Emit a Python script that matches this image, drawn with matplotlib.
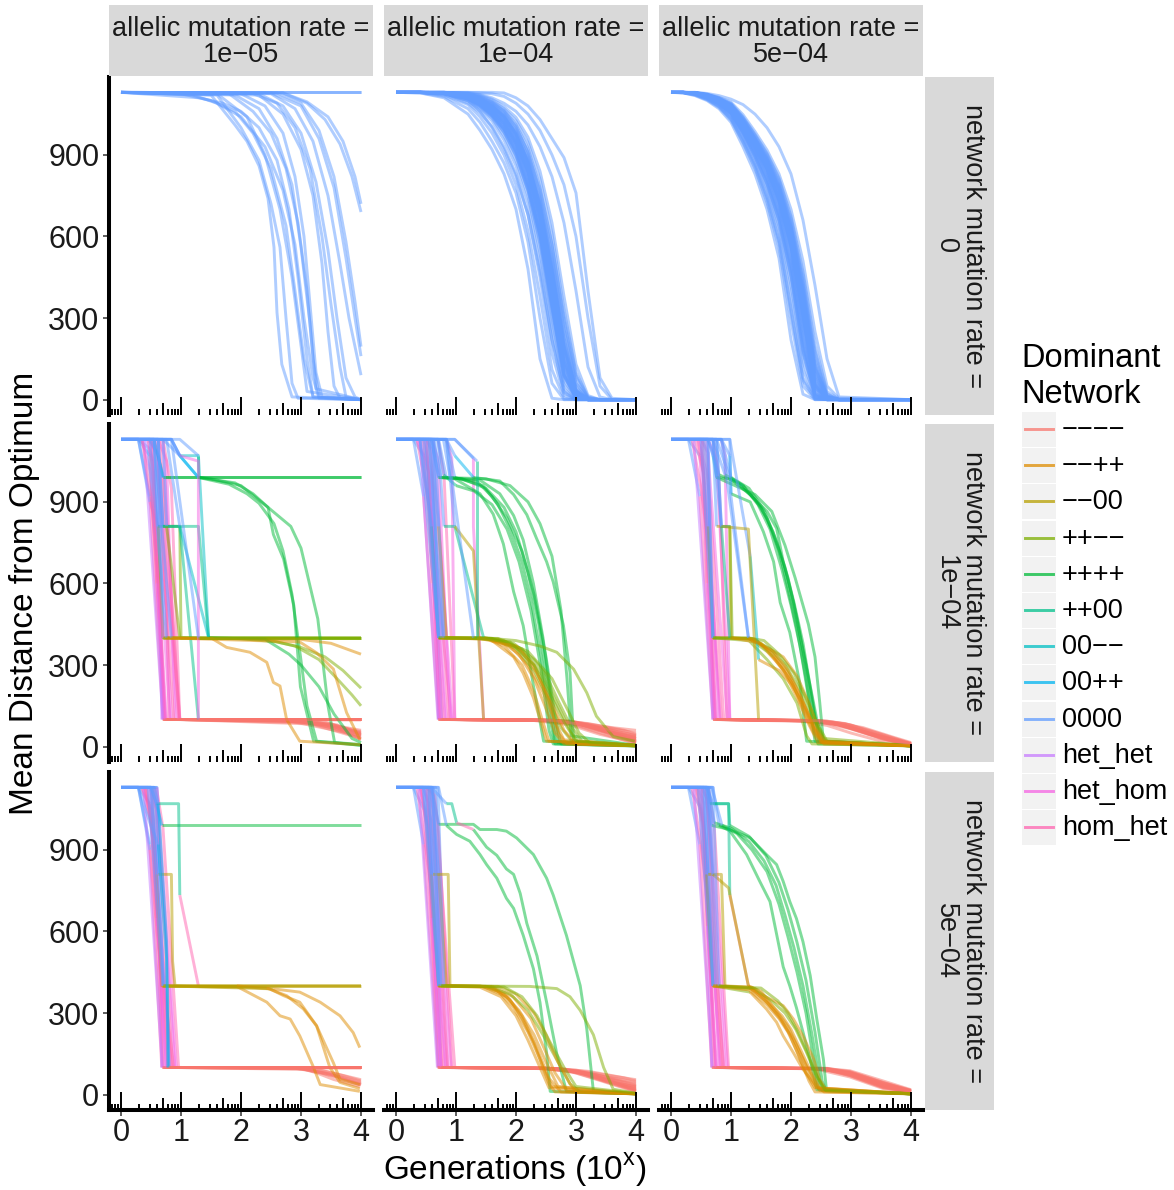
import numpy as np
import matplotlib
matplotlib.use("Agg")
import matplotlib.pyplot as plt
from matplotlib.patches import Rectangle
from matplotlib.lines import Line2D

plt.rcParams['font.family'] = ['Liberation Sans', 'DejaVu Sans']
plt.rcParams['mathtext.fontset'] = 'custom'
plt.rcParams['mathtext.rm'] = 'Liberation Sans'

# categories
networks = ["−−−−", "−−++", "−−00", "++−−", "++++", "++00", "00−−", "00++", "0000",
            "het_het", "het_hom", "hom_het"]
network_colors = ["#F8766D", "#DE8C00", "#B79F00", "#7CAE00", "#00BA38", "#00C08B",
                  "#00BFC4", "#00B4F0", "#619CFF", "#C77CFF", "#F564E3", "#FF64B0"]
network_codes = "modpgtcsbvhk"   # one letter per network, same order
allelic_rates = ["1e−05", "1e−04", "5e−04"]
network_rates = ["0", "1e−04", "5e−04"]
y_ticks = [0, 300, 600, 900]
x_ticks = [0, 1, 2, 3, 4]

# ---- row 1 (network mutation rate 0): all replicates stay on 0000 ----
traj_n0_a1 = [
    [(0, 1130), (4, 1130)],
    [(0, 1130), (4, 1130)],
    [(0, 1130), (1.5, 1120), (1.9, 1010), (2.1, 950), (2.3, 860), (2.45, 740), (2.55, 560), (2.6, 320), (2.68, 130), (2.85, 10), (4, 0)],
    [(0, 1130), (1.6, 1120), (2.0, 1000), (2.3, 880), (2.5, 720), (2.65, 560), (2.75, 300), (2.85, 60), (2.95, 5), (4, 0)],
    [(0, 1130), (1.0, 1125), (1.5, 1100), (1.9, 1060), (2.2, 980), (2.5, 850), (2.75, 640), (2.9, 400), (3.05, 150), (3.2, 10), (4, 0)],
    [(0, 1130), (1.2, 1120), (1.6, 1090), (2.0, 1040), (2.4, 930), (2.7, 770), (2.9, 570), (3.05, 300), (3.2, 80), (3.3, 5), (4, 0)],
    [(0, 1130), (1.8, 1125), (2.2, 1060), (2.5, 980), (2.75, 850), (2.95, 650), (3.1, 400), (3.2, 150), (3.3, 10), (4, 0)],
    [(0, 1130), (2.0, 1125), (2.4, 1080), (2.7, 980), (2.9, 820), (3.05, 600), (3.15, 350), (3.25, 100), (3.35, 10), (4, 0)],
    [(0, 1130), (1.9, 1120), (2.3, 1070), (2.6, 960), (2.85, 790), (3.0, 560), (3.15, 280), (3.25, 40), (4, 0)],
    [(0, 1130), (2.2, 1125), (2.6, 1090), (2.9, 1000), (3.15, 850), (3.35, 600), (3.5, 350), (3.65, 120), (3.75, 10), (4, 0)],
    [(0, 1130), (2.3, 1125), (2.7, 1080), (3.0, 980), (3.25, 800), (3.45, 550), (3.6, 300), (3.75, 80), (3.9, 10), (4, 0)],
    [(0, 1130), (2.5, 1125), (2.9, 1070), (3.2, 950), (3.45, 750), (3.65, 500), (3.8, 300), (4, 90)],
    [(0, 1130), (2.5, 1128), (3.0, 1080), (3.3, 960), (3.55, 780), (3.75, 520), (3.9, 300), (4, 160)],
    [(0, 1130), (2.6, 1128), (3.0, 1090), (3.3, 990), (3.55, 820), (3.75, 580), (3.9, 360), (4, 195)],
    [(0, 1130), (2.7, 1128), (3.1, 1090), (3.4, 1030), (3.65, 940), (3.85, 820), (4, 690)],
    [(0, 1130), (2.7, 1128), (3.1, 1095), (3.45, 1040), (3.7, 950), (3.9, 820), (4, 720)],
    [(0, 1130), (1.3, 1110), (1.7, 1090), (2.0, 1060), (2.3, 1000), (2.6, 880), (2.8, 700), (2.95, 450), (3.1, 150), (3.2, 10), (4, 0)],
    [(0, 1130), (1.6, 1125), (2.1, 1040), (2.4, 900), (2.65, 700), (2.85, 450), (3.0, 200), (3.1, 30), (4, 0)],
    [(0, 1130), (2.3, 1120), (2.7, 1050), (3.0, 920), (3.2, 750), (3.35, 500), (3.45, 250), (3.55, 50), (3.65, 5), (4, 0)],
]

gens_n0_a2 = [0, 0.4, 0.8, 1.2, 1.4, 1.6, 1.8, 2.0, 2.2, 2.4, 2.6, 2.8, 3.0, 3.2, 3.4, 3.6, 4.0]
dist_n0_a2 = [
    [1130, 1128, 1110, 1050, 990, 920, 830, 700, 480, 150, 5, 0, 0, 0, 0, 0, 0],
    [1130, 1128, 1115, 1070, 1020, 950, 870, 760, 580, 300, 60, 0, 0, 0, 0, 0, 0],
    [1130, 1130, 1120, 1085, 1040, 980, 900, 790, 620, 380, 110, 5, 0, 0, 0, 0, 0],
    [1130, 1130, 1122, 1090, 1055, 1005, 930, 830, 680, 450, 170, 15, 0, 0, 0, 0, 0],
    [1130, 1130, 1125, 1098, 1068, 1025, 955, 860, 720, 500, 220, 25, 0, 0, 0, 0, 0],
    [1130, 1130, 1125, 1100, 1072, 1035, 970, 880, 750, 540, 260, 40, 0, 0, 0, 0, 0],
    [1130, 1130, 1127, 1105, 1080, 1042, 985, 900, 770, 570, 290, 55, 3, 0, 0, 0, 0],
    [1130, 1130, 1127, 1108, 1084, 1048, 995, 915, 790, 600, 320, 70, 5, 0, 0, 0, 0],
    [1130, 1130, 1128, 1110, 1088, 1055, 1005, 930, 810, 620, 350, 90, 8, 0, 0, 0, 0],
    [1130, 1130, 1128, 1113, 1093, 1062, 1015, 940, 825, 640, 380, 110, 10, 0, 0, 0, 0],
    [1130, 1130, 1128, 1115, 1097, 1068, 1022, 950, 840, 660, 400, 130, 15, 0, 0, 0, 0],
    [1130, 1130, 1129, 1117, 1100, 1073, 1030, 962, 855, 680, 430, 150, 20, 0, 0, 0, 0],
    [1130, 1130, 1129, 1119, 1104, 1078, 1038, 972, 868, 700, 455, 175, 25, 0, 0, 0, 0],
    [1130, 1130, 1129, 1120, 1107, 1083, 1045, 982, 880, 720, 480, 200, 35, 0, 0, 0, 0],
    [1130, 1130, 1130, 1122, 1110, 1088, 1052, 992, 895, 740, 510, 230, 45, 0, 0, 0, 0],
    [1130, 1130, 1130, 1124, 1112, 1092, 1058, 1002, 910, 760, 540, 260, 60, 3, 0, 0, 0],
    [1130, 1130, 1130, 1125, 1115, 1095, 1064, 1012, 925, 780, 570, 290, 80, 5, 0, 0, 0],
    [1130, 1130, 1130, 1126, 1118, 1100, 1070, 1025, 945, 810, 610, 330, 100, 10, 0, 0, 0],
    [1130, 1130, 1130, 1127, 1120, 1105, 1078, 1038, 965, 840, 650, 380, 130, 15, 0, 0, 0],
    [1130, 1130, 1130, 1128, 1122, 1110, 1090, 1060, 1010, 930, 820, 650, 400, 120, 10, 0, 0],
    [1130, 1130, 1130, 1130, 1130, 1130, 1128, 1110, 1080, 1030, 960, 890, 760, 400, 80, 5, 0],
    [1130, 1130, 1130, 1130, 1128, 1125, 1115, 1090, 1050, 990, 900, 790, 600, 300, 50, 0, 0],
    [1130, 1130, 1125, 1100, 1060, 1000, 920, 820, 680, 470, 220, 30, 0, 0, 0, 0, 0],
    [1130, 1130, 1126, 1110, 1085, 1050, 995, 910, 780, 600, 350, 90, 5, 0, 0, 0, 0],
    [1130, 1130, 1129, 1118, 1102, 1078, 1040, 975, 870, 720, 520, 260, 60, 5, 0, 0, 0],
    [1130, 1130, 1127, 1108, 1082, 1045, 990, 905, 780, 610, 390, 140, 20, 0, 0, 0, 0],
    [1130, 1130, 1130, 1124, 1113, 1094, 1062, 1005, 910, 770, 570, 310, 90, 8, 0, 0, 0],
    [1130, 1130, 1128, 1114, 1093, 1062, 1015, 945, 840, 690, 480, 210, 35, 0, 0, 0, 0],
    [1130, 1130, 1128, 1112, 1090, 1058, 1010, 938, 832, 675, 460, 195, 30, 0, 0, 0, 0],
    [1130, 1130, 1129, 1119, 1105, 1081, 1042, 978, 875, 712, 468, 188, 30, 0, 0, 0, 0],
    [1130, 1130, 1126, 1104, 1078, 1040, 982, 896, 768, 585, 335, 85, 5, 0, 0, 0, 0],
    [1130, 1130, 1127, 1109, 1086, 1052, 1000, 922, 800, 612, 345, 95, 8, 0, 0, 0, 0],
    [1130, 1130, 1128, 1112, 1091, 1060, 1012, 936, 818, 632, 370, 105, 9, 0, 0, 0, 0],
    [1130, 1130, 1128, 1114, 1095, 1066, 1020, 948, 836, 655, 395, 125, 12, 0, 0, 0, 0],
    [1130, 1130, 1129, 1116, 1099, 1071, 1027, 958, 850, 672, 420, 145, 18, 0, 0, 0, 0],
    [1130, 1130, 1129, 1118, 1102, 1076, 1034, 968, 862, 690, 442, 165, 22, 0, 0, 0, 0],
    [1130, 1130, 1129, 1120, 1106, 1081, 1042, 978, 875, 710, 468, 188, 30, 0, 0, 0, 0],
    [1130, 1130, 1130, 1121, 1108, 1086, 1048, 987, 888, 730, 495, 215, 40, 0, 0, 0, 0],
    [1130, 1130, 1127, 1107, 1083, 1047, 996, 918, 796, 605, 340, 92, 7, 0, 0, 0, 0],
    [1130, 1130, 1128, 1116, 1098, 1070, 1026, 955, 846, 665, 410, 138, 16, 0, 0, 0, 0],
]

gens_n0_a3 = [0, 0.2, 0.4, 0.6, 0.8, 1.0, 1.2, 1.4, 1.6, 1.8, 2.0, 2.2, 2.4, 2.6, 2.8, 4.0]
dist_n0_a3 = [
    [1130, 1128, 1118, 1100, 1070, 1020, 930, 830, 700, 520, 220, 20, 0, 0, 0, 0],
    [1130, 1128, 1120, 1103, 1075, 1028, 945, 850, 725, 560, 290, 50, 0, 0, 0, 0],
    [1130, 1129, 1122, 1106, 1080, 1035, 955, 862, 745, 590, 340, 80, 3, 0, 0, 0],
    [1130, 1129, 1123, 1108, 1083, 1040, 962, 872, 760, 615, 380, 110, 5, 0, 0, 0],
    [1130, 1130, 1124, 1110, 1086, 1045, 970, 882, 775, 635, 420, 140, 8, 0, 0, 0],
    [1130, 1130, 1125, 1111, 1088, 1050, 978, 892, 790, 655, 450, 170, 12, 0, 0, 0],
    [1130, 1130, 1126, 1113, 1091, 1055, 985, 902, 805, 675, 480, 200, 18, 0, 0, 0],
    [1130, 1130, 1126, 1114, 1093, 1059, 992, 912, 818, 693, 505, 230, 25, 0, 0, 0],
    [1130, 1130, 1127, 1115, 1095, 1063, 998, 920, 830, 710, 530, 260, 35, 0, 0, 0],
    [1130, 1130, 1127, 1116, 1097, 1067, 1004, 928, 842, 725, 555, 290, 45, 2, 0, 0],
    [1130, 1130, 1128, 1118, 1100, 1071, 1010, 936, 853, 740, 575, 320, 60, 3, 0, 0],
    [1130, 1130, 1128, 1119, 1102, 1075, 1016, 944, 864, 755, 595, 350, 80, 5, 0, 0],
    [1130, 1130, 1128, 1120, 1104, 1078, 1022, 952, 875, 770, 615, 380, 100, 8, 0, 0],
    [1130, 1130, 1129, 1121, 1106, 1082, 1028, 960, 886, 785, 635, 410, 130, 12, 0, 0],
    [1130, 1130, 1129, 1122, 1108, 1086, 1034, 968, 896, 800, 655, 440, 160, 18, 0, 0],
    [1130, 1130, 1129, 1123, 1110, 1090, 1040, 976, 906, 815, 675, 470, 200, 30, 2, 0],
    [1130, 1130, 1130, 1124, 1112, 1094, 1048, 986, 918, 830, 700, 510, 250, 50, 5, 0],
    [1130, 1130, 1130, 1126, 1118, 1105, 1085, 1050, 1000, 930, 830, 660, 420, 150, 10, 0],
    [1130, 1129, 1121, 1104, 1078, 1032, 950, 856, 735, 575, 320, 70, 2, 0, 0, 0],
    [1130, 1130, 1125, 1112, 1090, 1053, 982, 897, 797, 665, 465, 185, 15, 0, 0, 0],
    [1130, 1130, 1127, 1116, 1098, 1069, 1007, 932, 848, 732, 565, 305, 52, 2, 0, 0],
    [1130, 1130, 1128, 1119, 1103, 1077, 1019, 948, 870, 762, 605, 365, 90, 6, 0, 0],
    [1130, 1130, 1129, 1122, 1109, 1088, 1037, 972, 901, 808, 665, 455, 180, 22, 0, 0],
    [1130, 1130, 1126, 1112, 1089, 1051, 980, 894, 793, 660, 458, 178, 14, 0, 0, 0],
    [1130, 1130, 1128, 1117, 1099, 1070, 1008, 934, 850, 736, 570, 312, 56, 2, 0, 0],
    [1130, 1130, 1129, 1120, 1105, 1080, 1025, 956, 880, 778, 625, 395, 115, 10, 0, 0],
    [1130, 1130, 1127, 1115, 1096, 1065, 1001, 924, 836, 718, 542, 275, 40, 1, 0, 0],
    [1130, 1130, 1128, 1121, 1107, 1084, 1031, 964, 891, 792, 645, 425, 145, 15, 0, 0],
    [1130, 1130, 1126, 1113, 1092, 1057, 988, 907, 812, 684, 492, 215, 22, 0, 0, 0],
    [1130, 1130, 1128, 1117, 1099, 1069, 1007, 931, 847, 733, 565, 305, 52, 2, 0, 0],
    [1130, 1130, 1128, 1118, 1101, 1073, 1013, 940, 858, 748, 585, 335, 70, 4, 0, 0],
    [1130, 1130, 1128, 1120, 1103, 1076, 1019, 948, 869, 763, 605, 365, 90, 6, 0, 0],
    [1130, 1130, 1129, 1121, 1105, 1080, 1025, 956, 880, 778, 625, 395, 115, 10, 0, 0],
    [1130, 1130, 1126, 1113, 1092, 1058, 990, 909, 814, 687, 495, 218, 23, 0, 0, 0],
    [1130, 1130, 1127, 1116, 1097, 1066, 1003, 926, 839, 722, 548, 282, 42, 1, 0, 0],
    [1130, 1130, 1128, 1118, 1100, 1072, 1011, 937, 855, 745, 580, 328, 66, 3, 0, 0],
    [1130, 1130, 1129, 1121, 1106, 1081, 1027, 958, 883, 781, 630, 402, 122, 11, 0, 0],
]

# ---- rows 2-3: (log10 generation, distance, dominant network code) ----
traj_n1_a1 = [
    [(0, 1130, 'b'), (0.29, 1130, 'b'), (0.48, 1070, 'k'), (0.72, 100, 'm'), (4, 100, 'm')],
    [(0, 1130, 'b'), (0.29, 1130, 'b'), (0.48, 920, 'k'), (0.7, 100, 'm'), (2.6, 98, 'm'), (3.2, 85, 'm'), (3.7, 60, 'm'), (4, 35, 'm')],
    [(0, 1130, 'b'), (0.35, 1130, 'h'), (0.5, 1000, 'h'), (0.76, 100, 'm'), (2.8, 97, 'm'), (3.4, 80, 'm'), (4, 45, 'm')],
    [(0, 1130, 'b'), (0.45, 1130, 'h'), (0.62, 1070, 'h'), (0.84, 100, 'm'), (3.0, 95, 'm'), (3.6, 70, 'm'), (4, 25, 'm')],
    [(0, 1130, 'b'), (0.55, 1130, 'k'), (0.7, 1000, 'k'), (0.98, 100, 'm'), (3.0, 96, 'm'), (3.5, 75, 'm'), (4, 50, 'm')],
    [(0, 1130, 'b'), (0.48, 1130, 'v'), (0.62, 1070, 'v'), (0.68, 100, 'm'), (4, 100, 'm')],
    [(0, 1130, 'b'), (0.62, 1130, 'h'), (0.76, 1050, 'h'), (0.9, 100, 'm'), (2.9, 96, 'm'), (3.5, 70, 'm'), (4, 30, 'm')],
    [(0, 1130, 'b'), (0.7, 1130, 'k'), (0.84, 950, 'k'), (0.98, 100, 'm'), (3.2, 92, 'm'), (4, 60, 'm')],
    [(0, 1130, 'b'), (0.29, 1130, 'b'), (0.48, 900, 'k'), (0.62, 810, 'k'), (0.76, 500, 'k'), (0.8, 100, 'm'), (2.8, 95, 'm'), (4, 40, 'm')],
    [(0, 1130, 'b'), (0.29, 1130, 'b'), (0.45, 1100, 'b'), (0.6, 700, 'k'), (0.74, 100, 'm'), (4, 100, 'm')],
    [(0, 1130, 'b'), (0.4, 1130, 'v'), (0.55, 1050, 'v'), (0.7, 100, 'm'), (2.7, 98, 'm'), (3.3, 88, 'm'), (4, 55, 'm')],
    [(0, 1130, 'b'), (0.45, 1130, 'k'), (0.55, 1000, 'k'), (0.72, 100, 'm'), (4, 100, 'm')],
    [(0, 1130, 'b'), (0.5, 1130, 'h'), (0.82, 100, 'm'), (4, 98, 'm')],
    [(0, 1130, 'b'), (0.55, 1130, 'k'), (0.65, 900, 'k'), (0.88, 100, 'm'), (3.4, 90, 'm'), (4, 50, 'm')],
    [(0, 1130, 'b'), (0.6, 1130, 'h'), (0.94, 100, 'm'), (4, 100, 'm')],
    [(0, 1130, 'b'), (0.65, 1130, 'k'), (0.75, 700, 'k'), (0.98, 100, 'm'), (3.5, 85, 'm'), (4, 40, 'm')],
    [(0, 1130, 'b'), (0.38, 1130, 'v'), (0.7, 100, 'm'), (4, 100, 'm')],
    [(0, 1130, 'b'), (0.52, 1130, 'k'), (0.6, 600, 'h'), (0.74, 100, 'm'), (4, 100, 'm')],
    [(0, 1130, 'b'), (0.7, 1130, 'h'), (0.78, 800, 'k'), (0.96, 100, 'm'), (3.6, 80, 'm'), (4, 45, 'm')],
    [(0, 1130, 'b'), (0.48, 1130, 'b'), (0.62, 1070, 's'), (0.7, 990, 'g'), (4, 990, 'g')],
    [(0, 1130, 'b'), (0.55, 1130, 's'), (0.7, 990, 'g'), (4, 990, 'g')],
    [(0, 1130, 'b'), (0.55, 1130, 'b'), (0.62, 810, 'p'), (0.7, 400, 'p'), (4, 400, 'p')],
    [(0, 1130, 'b'), (0.62, 1130, 'b'), (0.7, 810, 'p'), (0.98, 810, 'p'), (1.0, 400, 'p'), (4, 400, 'p')],
    [(0, 1130, 'b'), (0.84, 1130, 'b'), (0.98, 1070, 'c'), (1.29, 1070, 'c'), (1.46, 400, 'p'), (4, 398, 'p')],
    [(0, 1130, 'b'), (0.62, 1130, 'b'), (0.7, 810, 't'), (0.98, 810, 't'), (1.29, 100, 'm'), (3.0, 95, 'm'), (4, 30, 'm')],
    [(0, 1130, 'b'), (0.55, 1130, 'b'), (0.62, 810, 't'), (1.29, 810, 't'), (1.46, 400, 'p'), (4, 400, 'p')],
    [(0, 1130, 'b'), (0.84, 1130, 'b'), (0.98, 1070, 's'), (1.29, 990, 'g'), (1.5, 985, 'g'), (2.0, 960, 'g'), (2.45, 880, 'g'), (2.83, 810, 'g'), (3.0, 730, 'g'), (3.28, 470, 'g'), (3.45, 150, 'g'), (3.56, 15, 'g'), (4, 5, 'g')],
    [(0, 1130, 'b'), (0.98, 1130, 'b'), (1.29, 1070, 't'), (1.29, 990, 'g'), (1.9, 970, 'g'), (2.2, 930, 'g'), (2.45, 880, 'g'), (2.54, 780, 'g'), (2.71, 690, 'g'), (2.88, 520, 'g'), (2.99, 220, 'g'), (3.21, 20, 'g'), (4, 5, 'g')],
    [(0, 1130, 'b'), (0.7, 1130, 'b'), (0.98, 1070, 's'), (1.29, 990, 'g'), (1.8, 965, 'g'), (2.1, 930, 'g'), (2.3, 895, 'g'), (2.55, 820, 'g'), (2.7, 720, 'g'), (2.85, 560, 'g'), (2.98, 350, 'g'), (3.1, 150, 'g'), (3.26, 20, 'g'), (4, 8, 'g')],
    [(0, 1130, 'b'), (0.62, 1130, 'b'), (0.7, 400, 'p'), (2.0, 397, 'p'), (2.6, 385, 'p'), (3.0, 365, 'p'), (3.4, 330, 'p'), (3.7, 280, 'p'), (4, 215, 'p')],
    [(0, 1130, 'b'), (0.7, 1130, 'b'), (0.76, 810, 'p'), (0.98, 400, 'p'), (2.4, 395, 'p'), (2.9, 370, 'p'), (3.3, 320, 'p'), (3.6, 250, 'p'), (3.85, 190, 'p'), (4, 150, 'p')],
    [(0, 1130, 'b'), (0.76, 1130, 'b'), (0.98, 810, 'c'), (1.46, 400, 'g'), (2.4, 395, 'g'), (2.8, 340, 'g'), (3.0, 300, 'g'), (3.3, 220, 'g'), (3.55, 120, 'g'), (3.85, 30, 'g'), (4, 15, 'g')],
    [(0, 1130, 'b'), (0.35, 1130, 'k'), (0.5, 920, 'k'), (0.7, 400, 'd'), (1.5, 400, 'o'), (1.76, 365, 'o'), (2.15, 347, 'o'), (2.43, 310, 'o'), (2.54, 236, 'o'), (2.65, 223, 'o'), (2.76, 100, 'o'), (2.98, 20, 'o'), (4, 7, 'o')],
    [(0, 1130, 'b'), (0.48, 1130, 'b'), (0.76, 400, 'o'), (2.98, 385, 'o'), (3.26, 345, 'o'), (3.54, 285, 'o'), (3.76, 125, 'o'), (3.98, 26, 'o')],
    [(0, 1130, 'b'), (0.55, 1130, 'b'), (0.84, 400, 'o'), (2.98, 395, 'o'), (3.5, 380, 'o'), (4, 340, 'o')],
    [(0, 1130, 'b'), (0.84, 1130, 'b'), (0.98, 1070, 'h'), (1.29, 1050, 'h'), (1.29, 100, 'm'), (4, 100, 'm')],
    [(0, 1130, 'b'), (0.84, 1130, 'b'), (1.29, 400, 'p'), (4, 400, 'p')],
]

traj_n1_a2 = [
    [(0, 1130, 'b'), (0.29, 1130, 'b'), (0.46, 920, 'k'), (0.71, 100, 'm'), (2.5, 98, 'm'), (3.0, 85, 'm'), (3.5, 55, 'm'), (4, 30, 'm')],
    [(0, 1130, 'b'), (0.29, 1130, 'b'), (0.46, 1070, 'k'), (0.79, 100, 'm'), (2.6, 97, 'm'), (3.1, 80, 'm'), (3.6, 45, 'm'), (4, 20, 'm')],
    [(0, 1130, 'b'), (0.4, 1130, 'h'), (0.55, 1000, 'h'), (0.84, 100, 'm'), (2.4, 98, 'm'), (3.0, 88, 'm'), (3.5, 65, 'm'), (4, 40, 'm')],
    [(0, 1130, 'b'), (0.5, 1130, 'v'), (0.6, 1090, 'v'), (0.71, 100, 'm'), (2.7, 96, 'm'), (3.2, 75, 'm'), (3.7, 40, 'm'), (4, 15, 'm')],
    [(0, 1130, 'b'), (0.59, 1130, 'h'), (0.7, 1060, 'h'), (0.9, 100, 'm'), (2.5, 97, 'm'), (3.0, 90, 'm'), (3.5, 70, 'm'), (4, 50, 'm')],
    [(0, 1130, 'b'), (0.7, 1130, 'k'), (0.8, 1000, 'k'), (0.98, 100, 'm'), (2.8, 95, 'm'), (3.3, 70, 'm'), (3.8, 35, 'm'), (4, 25, 'm')],
    [(0, 1130, 'b'), (0.35, 1130, 'k'), (0.5, 950, 'k'), (0.62, 810, 'k'), (0.76, 100, 'm'), (2.3, 98, 'm'), (2.9, 85, 'm'), (3.4, 50, 'm'), (4, 10, 'm')],
    [(0, 1130, 'b'), (0.84, 1130, 'h'), (0.93, 1060, 'h'), (0.98, 100, 'm'), (2.6, 97, 'm'), (3.2, 85, 'm'), (3.8, 60, 'm'), (4, 45, 'm')],
    [(0, 1130, 'b'), (0.98, 1130, 'b'), (1.29, 1060, 'h'), (1.29, 810, 'h'), (1.46, 100, 'm'), (2.9, 95, 'm'), (4, 30, 'm')],
    [(0, 1130, 'b'), (0.46, 1130, 'v'), (0.59, 1000, 'v'), (0.76, 100, 'm'), (2.5, 97, 'm'), (3.0, 90, 'm'), (3.6, 70, 'm'), (4, 60, 'm')],
    [(0, 1130, 'b'), (0.35, 1130, 'h'), (0.46, 1070, 'h'), (0.93, 100, 'm'), (2.3, 96, 'm'), (2.9, 80, 'm'), (3.4, 45, 'm'), (4, 15, 'm')],
    [(0, 1130, 'b'), (0.45, 1130, 'k'), (0.55, 1000, 'k'), (0.72, 100, 'm'), (2.4, 97, 'm'), (2.9, 86, 'm'), (3.5, 52, 'm'), (4, 22, 'm')],
    [(0, 1130, 'b'), (0.5, 1130, 'h'), (0.82, 100, 'm'), (2.6, 96, 'm'), (3.1, 82, 'm'), (3.6, 48, 'm'), (4, 28, 'm')],
    [(0, 1130, 'b'), (0.55, 1130, 'k'), (0.65, 900, 'k'), (0.88, 100, 'm'), (2.5, 97, 'm'), (3.0, 88, 'm'), (3.6, 60, 'm'), (4, 40, 'm')],
    [(0, 1130, 'b'), (0.62, 1130, 'h'), (0.94, 100, 'm'), (2.7, 95, 'm'), (3.2, 78, 'm'), (3.7, 42, 'm'), (4, 18, 'm')],
    [(0, 1130, 'b'), (0.4, 1130, 'v'), (0.7, 100, 'm'), (2.4, 98, 'm'), (3.0, 84, 'm'), (3.5, 58, 'm'), (4, 35, 'm')],
    [(0, 1130, 'b'), (0.52, 1130, 'k'), (0.6, 600, 'h'), (0.74, 100, 'm'), (2.6, 96, 'm'), (3.2, 80, 'm'), (4, 20, 'm')],
    [(0, 1130, 'b'), (0.59, 1130, 'b'), (0.71, 990, 'g'), (0.98, 985, 'g'), (1.4, 930, 'g'), (1.62, 855, 'g'), (1.79, 745, 'g'), (1.96, 570, 'g'), (2.12, 445, 'g'), (2.29, 225, 'g'), (2.46, 20, 'g'), (4, 5, 'g')],
    [(0, 1130, 'b'), (0.71, 1130, 'b'), (0.84, 990, 'g'), (1.4, 980, 'g'), (1.73, 930, 'g'), (1.96, 850, 'g'), (2.12, 760, 'g'), (2.29, 600, 'g'), (2.45, 400, 'g'), (2.6, 150, 'g'), (2.7, 15, 'g'), (4, 3, 'g')],
    [(0, 1130, 'b'), (0.84, 1130, 'b'), (0.98, 1070, 's'), (1.29, 990, 'g'), (1.73, 977, 'g'), (1.96, 927, 'g'), (2.18, 853, 'g'), (2.34, 767, 'g'), (2.51, 680, 'g'), (2.62, 606, 'g'), (2.79, 446, 'g'), (2.9, 273, 'g'), (2.96, 20, 'g'), (4, 5, 'g')],
    [(0, 1130, 'b'), (0.59, 1130, 'b'), (0.71, 990, 'g'), (1.1, 985, 'g'), (1.5, 950, 'g'), (1.8, 880, 'g'), (2.0, 790, 'g'), (2.2, 640, 'g'), (2.38, 450, 'g'), (2.55, 200, 'g'), (2.65, 20, 'g'), (4, 4, 'g')],
    [(0, 1130, 'b'), (0.7, 1130, 'b'), (0.79, 1000, 't'), (1.0, 960, 'g'), (1.3, 940, 'g'), (1.6, 890, 'g'), (1.85, 800, 'g'), (2.05, 680, 'g'), (2.25, 500, 'g'), (2.42, 280, 'g'), (2.55, 60, 'g'), (2.62, 10, 'g'), (4, 2, 'g')],
    [(0, 1130, 'b'), (0.79, 1130, 'b'), (0.9, 990, 'g'), (1.35, 975, 'g'), (1.6, 920, 'g'), (1.85, 840, 'g'), (2.1, 720, 'g'), (2.3, 560, 'g'), (2.5, 330, 'g'), (2.66, 100, 'g'), (2.75, 10, 'g'), (4, 3, 'g')],
    [(0, 1130, 'b'), (0.84, 1130, 'b'), (0.98, 990, 'g'), (1.45, 960, 'g'), (1.7, 890, 'g'), (1.9, 800, 'g'), (2.1, 680, 'g'), (2.25, 540, 'g'), (2.42, 330, 'g'), (2.55, 120, 'g'), (2.65, 10, 'g'), (4, 4, 'g')],
    [(0, 1130, 'b'), (0.62, 1130, 'b'), (0.75, 990, 'g'), (1.5, 985, 'g'), (1.9, 960, 'g'), (2.2, 900, 'g'), (2.4, 820, 'g'), (2.6, 700, 'g'), (2.75, 500, 'g'), (2.85, 250, 'g'), (2.92, 40, 'g'), (4, 5, 'g')],
    [(0, 1130, 'b'), (0.4, 1130, 'b'), (0.59, 810, 't'), (0.71, 400, 'p'), (1.4, 400, 'p'), (1.96, 380, 'p'), (2.3, 320, 'p'), (2.51, 260, 'p'), (2.7, 170, 'p'), (2.9, 80, 'p'), (3.1, 20, 'p'), (4, 5, 'p')],
    [(0, 1130, 'b'), (0.5, 1130, 'b'), (0.71, 400, 'o'), (1.57, 395, 'o'), (1.96, 330, 'o'), (2.12, 270, 'o'), (2.29, 180, 'o'), (2.4, 100, 'o'), (2.51, 20, 'o'), (4, 5, 'o')],
    [(0, 1130, 'b'), (0.59, 1130, 'b'), (0.71, 810, 'd'), (0.84, 400, 'd'), (1.5, 400, 'o'), (1.9, 370, 'o'), (2.2, 300, 'o'), (2.45, 200, 'o'), (2.65, 90, 'o'), (2.8, 25, 'o'), (4, 5, 'o')],
    [(0, 1130, 'b'), (0.46, 1130, 'b'), (0.71, 400, 'p'), (1.6, 398, 'p'), (2.0, 360, 'p'), (2.3, 280, 'p'), (2.55, 170, 'p'), (2.75, 70, 'p'), (2.95, 15, 'p'), (4, 3, 'p')],
    [(0, 1130, 'b'), (0.55, 1130, 'b'), (0.79, 400, 'o'), (1.7, 395, 'o'), (2.05, 340, 'o'), (2.3, 250, 'o'), (2.5, 140, 'o'), (2.65, 50, 'o'), (2.8, 10, 'o'), (4, 3, 'o')],
    [(0, 1130, 'b'), (0.62, 1130, 'b'), (0.71, 400, 'p'), (1.5, 400, 'p'), (2.0, 390, 'p'), (2.4, 370, 'p'), (2.68, 347, 'p'), (2.96, 285, 'p'), (3.18, 198, 'p'), (3.34, 112, 'p'), (3.62, 37, 'p'), (3.98, 20, 'p')],
    [(0, 1130, 'b'), (0.7, 1130, 'b'), (0.8, 810, 't'), (0.98, 810, 't'), (1.46, 400, 'd'), (1.8, 390, 'd'), (2.1, 350, 'o'), (2.35, 270, 'o'), (2.6, 160, 'o'), (2.8, 60, 'o'), (3.0, 10, 'o'), (4, 4, 'o')],
    [(0, 1130, 'b'), (0.4, 1130, 'b'), (0.71, 400, 'p'), (1.6, 396, 'p'), (2.1, 360, 'p'), (2.45, 260, 'p'), (2.7, 150, 'p'), (2.9, 60, 'p'), (3.05, 15, 'p'), (4, 3, 'p')],
    [(0, 1130, 'b'), (0.55, 1130, 'b'), (0.76, 400, 'o'), (1.5, 398, 'o'), (1.8, 370, 'o'), (2.1, 300, 'o'), (2.3, 200, 'o'), (2.45, 90, 'o'), (2.55, 20, 'o'), (4, 5, 'o')],
    [(0, 1130, 'b'), (0.65, 1130, 'b'), (0.8, 400, 'p'), (1.7, 398, 'p'), (2.2, 350, 'p'), (2.6, 250, 'p'), (2.85, 140, 'p'), (3.05, 50, 'p'), (3.25, 10, 'p'), (4, 3, 'p')],
    [(0, 1130, 'b'), (0.84, 1130, 'b'), (0.98, 810, 'd'), (1.29, 720, 'd'), (1.46, 100, 'm'), (2.6, 97, 'm'), (3.3, 75, 'm'), (4, 35, 'm')],
    [(0, 1130, 'b'), (0.98, 1130, 'b'), (1.35, 1050, 't'), (1.35, 400, 'o'), (2.0, 370, 'o'), (2.3, 300, 'o'), (2.55, 170, 'o'), (2.7, 50, 'o'), (2.85, 10, 'o'), (4, 3, 'o')],
    [(0, 1130, 'b'), (0.84, 1130, 'b'), (1.29, 400, 'p'), (1.9, 385, 'p'), (2.3, 300, 'p'), (2.55, 200, 'p'), (2.8, 90, 'p'), (3.0, 20, 'p'), (4, 4, 'p')],
]

traj_n1_a3 = [
    [(0, 1130, 'b'), (0.29, 1130, 'b'), (0.48, 920, 'k'), (0.7, 100, 'm'), (2.2, 95, 'm'), (2.6, 85, 'm'), (3.0, 65, 'm'), (3.5, 30, 'm'), (4, 8, 'm')],
    [(0, 1130, 'b'), (0.29, 1130, 'b'), (0.48, 1070, 'h'), (0.76, 100, 'm'), (2.3, 96, 'm'), (2.7, 88, 'm'), (3.1, 60, 'm'), (3.6, 25, 'm'), (4, 6, 'm')],
    [(0, 1130, 'b'), (0.4, 1130, 'k'), (0.55, 1000, 'k'), (0.84, 100, 'm'), (2.4, 95, 'm'), (2.8, 80, 'm'), (3.2, 55, 'm'), (3.7, 20, 'm'), (4, 8, 'm')],
    [(0, 1130, 'b'), (0.5, 1130, 'v'), (0.62, 1080, 'v'), (0.7, 100, 'm'), (2.2, 93, 'm'), (2.6, 78, 'm'), (3.0, 50, 'm'), (3.5, 20, 'm'), (4, 5, 'm')],
    [(0, 1130, 'b'), (0.62, 1130, 'h'), (0.76, 1050, 'h'), (0.98, 100, 'm'), (2.5, 96, 'm'), (2.9, 85, 'm'), (3.3, 60, 'm'), (3.8, 25, 'm'), (4, 12, 'm')],
    [(0, 1130, 'b'), (0.7, 1130, 'k'), (0.8, 990, 'k'), (0.93, 100, 'm'), (2.3, 94, 'm'), (2.7, 84, 'm'), (3.1, 62, 'm'), (3.6, 30, 'm'), (4, 10, 'm')],
    [(0, 1130, 'b'), (0.35, 1130, 'k'), (0.5, 950, 'k'), (0.65, 700, 'k'), (0.74, 100, 'm'), (2.4, 95, 'm'), (2.8, 82, 'm'), (3.3, 50, 'm'), (3.8, 18, 'm'), (4, 8, 'm')],
    [(0, 1130, 'b'), (0.84, 1130, 'h'), (0.9, 1070, 'h'), (0.98, 100, 'm'), (2.2, 96, 'm'), (2.7, 90, 'm'), (3.2, 70, 'm'), (3.7, 35, 'm'), (4, 15, 'm')],
    [(0, 1130, 'b'), (0.45, 1130, 'h'), (0.6, 1000, 'h'), (0.8, 100, 'm'), (2.6, 94, 'm'), (3.0, 80, 'm'), (3.4, 45, 'm'), (4, 10, 'm')],
    [(0, 1130, 'b'), (0.45, 1130, 'k'), (0.55, 1000, 'k'), (0.72, 100, 'm'), (2.3, 95, 'm'), (2.8, 80, 'm'), (3.3, 45, 'm'), (4, 9, 'm')],
    [(0, 1130, 'b'), (0.5, 1130, 'h'), (0.82, 100, 'm'), (2.4, 96, 'm'), (2.9, 84, 'm'), (3.4, 52, 'm'), (4, 12, 'm')],
    [(0, 1130, 'b'), (0.55, 1130, 'k'), (0.65, 900, 'k'), (0.88, 100, 'm'), (2.2, 95, 'm'), (2.7, 86, 'm'), (3.2, 58, 'm'), (4, 10, 'm')],
    [(0, 1130, 'b'), (0.6, 1130, 'h'), (0.94, 100, 'm'), (2.5, 94, 'm'), (3.0, 72, 'm'), (3.5, 32, 'm'), (4, 7, 'm')],
    [(0, 1130, 'b'), (0.38, 1130, 'v'), (0.7, 100, 'm'), (2.3, 96, 'm'), (2.8, 82, 'm'), (3.3, 48, 'm'), (4, 9, 'm')],
    [(0, 1130, 'b'), (0.52, 1130, 'k'), (0.6, 600, 'h'), (0.74, 100, 'm'), (2.4, 95, 'm'), (2.9, 78, 'm'), (3.5, 35, 'm'), (4, 8, 'm')],
    [(0, 1130, 'b'), (0.62, 1130, 'b'), (0.7, 1070, 'c'), (0.76, 990, 'g'), (0.98, 985, 'g'), (1.32, 927, 'g'), (1.6, 865, 'g'), (1.76, 803, 'g'), (1.87, 680, 'g'), (2.04, 532, 'g'), (2.15, 408, 'g'), (2.32, 223, 'g'), (2.43, 100, 'g'), (2.54, 20, 'g'), (4, 4, 'g')],
    [(0, 1130, 'b'), (0.84, 1130, 'b'), (0.98, 1070, 's'), (1.0, 930, 'g'), (1.32, 900, 'g'), (1.54, 790, 'g'), (1.71, 680, 'g'), (1.82, 530, 'g'), (1.98, 420, 'g'), (2.15, 230, 'g'), (2.26, 20, 'g'), (4, 3, 'g')],
    [(0, 1130, 'b'), (0.7, 1130, 'b'), (0.76, 990, 'g'), (1.4, 927, 'g'), (1.68, 865, 'g'), (1.9, 740, 'g'), (2.07, 620, 'g'), (2.29, 450, 'g'), (2.4, 330, 'g'), (2.48, 160, 'g'), (2.54, 20, 'g'), (4, 3, 'g')],
    [(0, 1130, 'b'), (0.7, 1130, 'b'), (0.9, 1000, 'g'), (1.2, 960, 'g'), (1.45, 890, 'g'), (1.65, 800, 'g'), (1.85, 650, 'g'), (2.0, 520, 'g'), (2.15, 370, 'g'), (2.3, 170, 'g'), (2.4, 20, 'g'), (4, 3, 'g')],
    [(0, 1130, 'b'), (0.62, 1130, 'b'), (0.8, 1000, 'g'), (1.1, 970, 'g'), (1.4, 910, 'g'), (1.6, 840, 'g'), (1.8, 720, 'g'), (1.95, 580, 'g'), (2.1, 430, 'g'), (2.25, 250, 'g'), (2.38, 60, 'g'), (2.45, 10, 'g'), (4, 3, 'g')],
    [(0, 1130, 'b'), (0.76, 1130, 'b'), (0.98, 990, 't'), (1.2, 960, 'g'), (1.5, 880, 'g'), (1.7, 790, 'g'), (1.9, 660, 'g'), (2.05, 530, 'g'), (2.2, 380, 'g'), (2.35, 180, 'g'), (2.47, 20, 'g'), (4, 3, 'g')],
    [(0, 1130, 'b'), (0.84, 1130, 'b'), (1.0, 990, 'g'), (1.3, 950, 'g'), (1.55, 870, 'g'), (1.75, 760, 'g'), (1.95, 620, 'g'), (2.1, 470, 'g'), (2.25, 300, 'g'), (2.4, 100, 'g'), (2.5, 15, 'g'), (4, 3, 'g')],
    [(0, 1130, 'b'), (0.55, 1130, 'b'), (0.62, 810, 'p'), (0.7, 400, 'p'), (1.29, 400, 'p'), (1.6, 350, 'o'), (1.87, 285, 'o'), (2.04, 225, 'o'), (2.2, 137, 'o'), (2.38, 50, 'o'), (2.54, 15, 'o'), (4, 3, 'o')],
    [(0, 1130, 'b'), (0.62, 1130, 'b'), (0.7, 400, 'd'), (1.29, 398, 'o'), (1.6, 365, 'o'), (1.87, 330, 'o'), (2.1, 260, 'o'), (2.32, 150, 'o'), (2.48, 50, 'o'), (2.6, 15, 'o'), (4, 3, 'o')],
    [(0, 1130, 'b'), (0.5, 1130, 'b'), (0.7, 400, 'p'), (1.3, 390, 'p'), (1.6, 320, 'p'), (1.87, 250, 'p'), (2.1, 160, 'p'), (2.26, 40, 'p'), (2.35, 10, 'p'), (4, 3, 'p')],
    [(0, 1130, 'b'), (0.7, 1130, 'b'), (0.76, 810, 'd'), (0.98, 810, 'd'), (1.0, 400, 'o'), (1.4, 395, 'o'), (1.7, 340, 'o'), (1.95, 270, 'o'), (2.15, 190, 'o'), (2.35, 80, 'o'), (2.5, 15, 'o'), (4, 3, 'o')],
    [(0, 1130, 'b'), (0.6, 1130, 'b'), (0.7, 400, 'p'), (1.35, 398, 'p'), (1.65, 360, 'p'), (1.9, 300, 'p'), (2.15, 210, 'p'), (2.35, 110, 'p'), (2.55, 30, 'p'), (4, 4, 'p')],
    [(0, 1130, 'b'), (0.76, 1130, 'b'), (0.84, 810, 'c'), (0.98, 810, 'p'), (1.02, 400, 'o'), (1.5, 380, 'o'), (1.75, 320, 'o'), (2.0, 240, 'o'), (2.2, 150, 'o'), (2.4, 60, 'o'), (2.55, 10, 'o'), (4, 3, 'o')],
    [(0, 1130, 'b'), (0.84, 1130, 'b'), (1.29, 400, 'p'), (1.55, 390, 'p'), (1.8, 340, 'p'), (2.05, 270, 'p'), (2.25, 180, 'p'), (2.45, 80, 'p'), (2.6, 20, 'p'), (4, 3, 'p')],
    [(0, 1130, 'b'), (0.98, 1130, 'b'), (1.32, 700, 'c'), (1.46, 320, 'o'), (1.8, 280, 'o'), (2.0, 230, 'o'), (2.2, 160, 'o'), (2.4, 70, 'o'), (2.55, 20, 'o'), (4, 3, 'o')],
    [(0, 1130, 'b'), (0.7, 1130, 'b'), (0.84, 810, 't'), (0.98, 400, 'd'), (1.4, 395, 'd'), (1.7, 330, 'o'), (1.9, 270, 'o'), (2.1, 180, 'o'), (2.3, 80, 'o'), (2.45, 15, 'o'), (4, 3, 'o')],
    [(0, 1130, 'b'), (0.76, 1130, 'b'), (0.84, 810, 'd'), (1.29, 800, 'd'), (1.46, 100, 'm'), (2.5, 95, 'm'), (3.0, 70, 'm'), (3.5, 30, 'm'), (4, 8, 'm')],
    [(0, 1130, 'b'), (0.98, 1130, 'b'), (1.0, 920, 'b'), (1.29, 400, 'o'), (1.7, 350, 'o'), (1.95, 280, 'o'), (2.15, 190, 'o'), (2.35, 90, 'o'), (2.5, 20, 'o'), (4, 3, 'o')],
]

traj_n2_a1 = [
    [(0, 1130, 'b'), (0.29, 1130, 'b'), (0.48, 920, 'k'), (0.68, 100, 'm'), (4, 100, 'm')],
    [(0, 1130, 'b'), (0.29, 1130, 'b'), (0.48, 1070, 'h'), (0.76, 100, 'm'), (4, 98, 'm')],
    [(0, 1130, 'b'), (0.4, 1130, 'k'), (0.55, 950, 'k'), (0.84, 100, 'm'), (2.98, 98, 'm'), (3.26, 80, 'm'), (3.54, 56, 'm'), (3.98, 30, 'm')],
    [(0, 1130, 'b'), (0.48, 1130, 'v'), (0.59, 1050, 'v'), (0.68, 100, 'm'), (4, 100, 'm')],
    [(0, 1130, 'b'), (0.55, 1130, 'h'), (0.62, 1000, 'h'), (0.9, 100, 'm'), (3.0, 97, 'm'), (3.5, 70, 'm'), (4, 40, 'm')],
    [(0, 1130, 'b'), (0.35, 1130, 'k'), (0.5, 1000, 'k'), (0.6, 750, 'k'), (0.8, 100, 'm'), (3.1, 95, 'm'), (3.6, 65, 'm'), (4, 35, 'm')],
    [(0, 1130, 'b'), (0.59, 1130, 'k'), (0.7, 980, 'k'), (0.96, 100, 'm'), (2.9, 98, 'm'), (3.4, 80, 'm'), (4, 45, 'm')],
    [(0, 1130, 'b'), (0.45, 1130, 'h'), (0.55, 1000, 'h'), (0.72, 100, 'm'), (4, 100, 'm')],
    [(0, 1130, 'b'), (0.29, 1130, 'b'), (0.48, 900, 'k'), (0.6, 600, 'k'), (0.88, 100, 'm'), (3.2, 96, 'm'), (3.7, 70, 'm'), (4, 50, 'm')],
    [(0, 1130, 'b'), (0.35, 1130, 'k'), (0.5, 1050, 'k'), (0.78, 100, 'm'), (2.9, 97, 'm'), (3.5, 75, 'm'), (4, 38, 'm')],
    [(0, 1130, 'b'), (0.42, 1130, 'k'), (0.52, 980, 'k'), (0.7, 100, 'm'), (4, 100, 'm')],
    [(0, 1130, 'b'), (0.5, 1130, 'h'), (0.82, 100, 'm'), (4, 99, 'm')],
    [(0, 1130, 'b'), (0.55, 1130, 'k'), (0.64, 880, 'k'), (0.86, 100, 'm'), (3.3, 92, 'm'), (4, 55, 'm')],
    [(0, 1130, 'b'), (0.6, 1130, 'h'), (0.92, 100, 'm'), (4, 100, 'm')],
    [(0, 1130, 'b'), (0.38, 1130, 'v'), (0.69, 100, 'm'), (4, 100, 'm')],
    [(0, 1130, 'b'), (0.52, 1130, 'k'), (0.6, 650, 'h'), (0.75, 100, 'm'), (4, 100, 'm')],
    [(0, 1130, 'b'), (0.5, 1130, 'b'), (0.59, 1070, 's'), (0.68, 990, 'g'), (4, 990, 'g')],
    [(0, 1130, 'b'), (0.5, 1130, 'b'), (0.59, 1070, 't'), (0.96, 1070, 't'), (0.98, 734, 'k'), (1.29, 400, 'd'), (4, 400, 'd')],
    [(0, 1130, 'b'), (0.5, 1130, 'b'), (0.59, 810, 'd'), (0.68, 400, 'd'), (4, 400, 'd')],
    [(0, 1130, 'b'), (0.55, 1130, 'b'), (0.62, 810, 'd'), (0.84, 810, 'd'), (0.86, 490, 'd'), (0.9, 400, 'd'), (4, 400, 'd')],
    [(0, 1130, 'b'), (0.4, 1130, 'k'), (0.55, 920, 'k'), (0.68, 400, 'd'), (1.93, 400, 'o'), (2.48, 389, 'o'), (2.71, 364, 'o'), (2.98, 340, 'o'), (3.26, 253, 'o'), (3.54, 117, 'o'), (3.65, 56, 'o'), (3.98, 37, 'o')],
    [(0, 1130, 'b'), (0.45, 1130, 'b'), (0.7, 400, 'd'), (1.93, 398, 'o'), (2.43, 340, 'o'), (2.65, 290, 'o'), (2.82, 278, 'o'), (2.98, 216, 'o'), (3.2, 105, 'o'), (3.32, 37, 'o'), (3.98, 12, 'o')],
    [(0, 1130, 'b'), (0.5, 1130, 'b'), (0.72, 400, 'd'), (2.54, 389, 'o'), (2.98, 377, 'o'), (3.32, 340, 'o'), (3.65, 290, 'o'), (3.87, 228, 'o'), (3.98, 173, 'o')],
    [(0, 1130, 'b'), (0.6, 1130, 'b'), (0.7, 400, 'd'), (2.43, 392, 'o'), (2.76, 364, 'o'), (3.04, 315, 'o'), (3.26, 253, 'o'), (3.48, 100, 'o'), (3.65, 45, 'o'), (3.98, 22, 'o')],
    [(0, 1130, 'b'), (0.29, 1130, 'b'), (0.48, 1000, 'b'), (0.62, 920, 's'), (0.76, 500, 's'), (0.8, 100, 'm'), (4, 100, 'm')],
    [(0, 1130, 'b'), (0.55, 1130, 'b'), (0.62, 1070, 's'), (0.76, 560, 's'), (0.78, 100, 'm'), (4, 100, 'm')],
]

traj_n2_a2 = [
    [(0, 1130, 'b'), (0.29, 1130, 'b'), (0.46, 920, 'k'), (0.71, 100, 'm'), (2.5, 98, 'm'), (3.0, 85, 'm'), (3.5, 55, 'm'), (4, 25, 'm')],
    [(0, 1130, 'b'), (0.29, 1130, 'b'), (0.46, 1050, 'h'), (0.76, 100, 'm'), (2.6, 97, 'm'), (3.1, 78, 'm'), (3.6, 40, 'm'), (4, 15, 'm')],
    [(0, 1130, 'b'), (0.4, 1130, 'k'), (0.5, 1000, 'k'), (0.8, 100, 'm'), (2.4, 98, 'm'), (3.0, 88, 'm'), (3.5, 65, 'm'), (4, 45, 'm')],
    [(0, 1130, 'b'), (0.45, 1130, 'v'), (0.55, 1070, 'v'), (0.71, 100, 'm'), (2.7, 96, 'm'), (3.2, 72, 'm'), (3.7, 35, 'm'), (4, 12, 'm')],
    [(0, 1130, 'b'), (0.55, 1130, 'h'), (0.62, 1050, 'h'), (0.87, 100, 'm'), (2.5, 97, 'm'), (3.0, 90, 'm'), (3.5, 72, 'm'), (4, 55, 'm')],
    [(0, 1130, 'b'), (0.6, 1130, 'k'), (0.7, 1000, 'k'), (0.93, 100, 'm'), (2.8, 95, 'm'), (3.3, 70, 'm'), (3.8, 32, 'm'), (4, 22, 'm')],
    [(0, 1130, 'b'), (0.35, 1130, 'k'), (0.5, 900, 'k'), (0.62, 700, 'k'), (0.76, 100, 'm'), (2.3, 98, 'm'), (2.9, 86, 'm'), (3.4, 52, 'm'), (4, 10, 'm')],
    [(0, 1130, 'b'), (0.5, 1130, 'k'), (0.65, 1100, 'k'), (0.98, 100, 'm'), (2.6, 97, 'm'), (3.2, 86, 'm'), (3.8, 62, 'm'), (4, 50, 'm')],
    [(0, 1130, 'b'), (0.4, 1130, 'h'), (0.55, 980, 'h'), (0.84, 100, 'm'), (2.5, 96, 'm'), (3.0, 80, 'm'), (3.5, 48, 'm'), (4, 30, 'm')],
    [(0, 1130, 'b'), (0.46, 1130, 'v'), (0.59, 1000, 'v'), (0.71, 600, 'v'), (0.74, 100, 'm'), (2.7, 95, 'm'), (3.3, 75, 'm'), (4, 35, 'm')],
    [(0, 1130, 'b'), (0.42, 1130, 'k'), (0.52, 980, 'k'), (0.7, 100, 'm'), (2.4, 97, 'm'), (3.0, 84, 'm'), (3.6, 50, 'm'), (4, 28, 'm')],
    [(0, 1130, 'b'), (0.5, 1130, 'h'), (0.82, 100, 'm'), (2.6, 96, 'm'), (3.1, 80, 'm'), (3.6, 45, 'm'), (4, 20, 'm')],
    [(0, 1130, 'b'), (0.55, 1130, 'k'), (0.64, 880, 'k'), (0.86, 100, 'm'), (2.5, 97, 'm'), (3.0, 88, 'm'), (3.7, 55, 'm'), (4, 40, 'm')],
    [(0, 1130, 'b'), (0.6, 1130, 'h'), (0.92, 100, 'm'), (2.7, 95, 'm'), (3.2, 76, 'm'), (3.7, 40, 'm'), (4, 18, 'm')],
    [(0, 1130, 'b'), (0.38, 1130, 'v'), (0.69, 100, 'm'), (2.4, 98, 'm'), (3.0, 85, 'm'), (3.6, 55, 'm'), (4, 32, 'm')],
    [(0, 1130, 'b'), (0.52, 1130, 'k'), (0.6, 650, 'h'), (0.75, 100, 'm'), (2.6, 96, 'm'), (3.2, 78, 'm'), (4, 15, 'm')],
    [(0, 1130, 'b'), (0.59, 1130, 'b'), (0.71, 994, 'g'), (1.29, 994, 'g'), (1.4, 975, 'g'), (1.68, 975, 'g'), (1.84, 969, 'g'), (2.01, 944, 'g'), (2.29, 883, 'g'), (2.51, 796, 'g'), (2.62, 734, 'g'), (2.84, 586, 'g'), (3.07, 401, 'g'), (3.18, 241, 'g'), (3.29, 12, 'g'), (4, 3, 'g')],
    [(0, 1130, 'b'), (0.71, 1130, 'b'), (0.84, 990, 'g'), (1.01, 957, 'g'), (1.23, 932, 'g'), (1.4, 883, 'g'), (1.51, 846, 'g'), (1.68, 796, 'g'), (1.84, 722, 'g'), (1.96, 685, 'g'), (2.12, 586, 'g'), (2.29, 463, 'g'), (2.4, 339, 'g'), (2.51, 154, 'g'), (2.57, 12, 'g'), (4, 3, 'g')],
    [(0, 1130, 'b'), (0.59, 1130, 'b'), (0.84, 1070, 't'), (0.93, 1070, 't'), (1.01, 1000, 'k'), (1.29, 975, 'g'), (1.51, 910, 'g'), (1.68, 880, 'g'), (1.84, 830, 'g'), (1.96, 810, 'g'), (2.07, 740, 'g'), (2.18, 630, 'g'), (2.35, 510, 'g'), (2.51, 340, 'g'), (2.68, 150, 'g'), (2.84, 12, 'g'), (4, 3, 'g')],
    [(0, 1130, 'b'), (0.46, 1130, 'b'), (0.59, 810, 'd'), (0.71, 400, 'd'), (1.4, 400, 'd'), (1.7, 380, 'o'), (1.96, 320, 'o'), (2.2, 230, 'o'), (2.4, 130, 'o'), (2.55, 40, 'o'), (2.65, 10, 'o'), (4, 3, 'o')],
    [(0, 1130, 'b'), (0.5, 1130, 'b'), (0.71, 400, 'd'), (1.5, 398, 'o'), (1.8, 370, 'o'), (2.05, 310, 'o'), (2.3, 220, 'o'), (2.5, 120, 'o'), (2.7, 30, 'o'), (4, 3, 'o')],
    [(0, 1130, 'b'), (0.55, 1130, 'b'), (0.71, 400, 'o'), (1.4, 395, 'o'), (1.75, 360, 'o'), (2.0, 290, 'o'), (2.2, 200, 'o'), (2.4, 100, 'o'), (2.55, 25, 'o'), (4, 3, 'o')],
    [(0, 1130, 'b'), (0.59, 1130, 'b'), (0.71, 810, 'd'), (0.84, 400, 'd'), (1.6, 398, 'o'), (1.95, 360, 'o'), (2.25, 280, 'o'), (2.45, 180, 'o'), (2.65, 80, 'o'), (2.85, 15, 'o'), (4, 3, 'o')],
    [(0, 1130, 'b'), (0.62, 1130, 'b'), (0.71, 400, 'p'), (1.5, 398, 'p'), (1.9, 370, 'p'), (2.2, 310, 'p'), (2.45, 220, 'p'), (2.7, 120, 'p'), (2.9, 40, 'p'), (3.07, 10, 'p'), (4, 3, 'p')],
    [(0, 1130, 'b'), (0.66, 1130, 'b'), (0.75, 400, 'p'), (2.23, 398, 'p'), (2.68, 390, 'p'), (2.9, 360, 'p'), (3.07, 310, 'p'), (3.29, 220, 'p'), (3.46, 100, 'p'), (3.62, 20, 'p'), (4, 5, 'p')],
    [(0, 1130, 'b'), (0.7, 1130, 'b'), (0.8, 400, 'o'), (1.6, 396, 'o'), (1.9, 350, 'o'), (2.1, 280, 'o'), (2.3, 190, 'o'), (2.45, 100, 'o'), (2.6, 30, 'o'), (4, 3, 'o')],
    [(0, 1130, 'b'), (0.45, 1130, 'b'), (0.71, 400, 'd'), (1.7, 398, 'd'), (2.0, 370, 'o'), (2.3, 300, 'o'), (2.5, 220, 'o'), (2.7, 120, 'o'), (2.9, 40, 'o'), (3.0, 10, 'o'), (4, 3, 'o')],
    [(0, 1130, 'b'), (0.55, 1130, 'b'), (0.62, 810, 'd'), (0.87, 810, 'd'), (0.9, 400, 'o'), (1.45, 398, 'o'), (1.85, 360, 'o'), (2.1, 290, 'o'), (2.35, 170, 'o'), (2.55, 60, 'o'), (2.75, 10, 'o'), (4, 3, 'o')],
    [(0, 1130, 'b'), (0.6, 1130, 'b'), (0.75, 400, 'p'), (1.8, 396, 'p'), (2.1, 360, 'p'), (2.35, 290, 'p'), (2.55, 200, 'p'), (2.8, 100, 'p'), (3.0, 30, 'p'), (4, 5, 'p')],
]

traj_n2_a3 = [
    [(0, 1130, 'b'), (0.29, 1130, 'b'), (0.48, 920, 'k'), (0.68, 100, 'm'), (2.5, 95, 'm'), (2.98, 75, 'm'), (3.54, 35, 'm'), (4, 12, 'm')],
    [(0, 1130, 'b'), (0.29, 1130, 'b'), (0.48, 1060, 'h'), (0.76, 100, 'm'), (2.4, 96, 'm'), (2.98, 85, 'm'), (3.54, 45, 'm'), (4, 15, 'm')],
    [(0, 1130, 'b'), (0.4, 1130, 'k'), (0.52, 1000, 'k'), (0.84, 100, 'm'), (2.6, 94, 'm'), (2.98, 70, 'm'), (3.54, 25, 'm'), (4, 10, 'm')],
    [(0, 1130, 'b'), (0.45, 1130, 'v'), (0.55, 1070, 'v'), (0.68, 100, 'm'), (2.5, 96, 'm'), (2.98, 80, 'm'), (3.54, 40, 'm'), (4, 14, 'm')],
    [(0, 1130, 'b'), (0.55, 1130, 'h'), (0.62, 1040, 'h'), (0.9, 100, 'm'), (2.5, 97, 'm'), (2.98, 88, 'm'), (3.54, 50, 'm'), (4, 18, 'm')],
    [(0, 1130, 'b'), (0.62, 1130, 'k'), (0.72, 990, 'k'), (0.96, 100, 'm'), (2.4, 95, 'm'), (2.98, 65, 'm'), (3.54, 22, 'm'), (4, 8, 'm')],
    [(0, 1130, 'b'), (0.35, 1130, 'k'), (0.5, 920, 'k'), (0.62, 700, 'k'), (0.74, 100, 'm'), (2.6, 96, 'm'), (2.98, 78, 'm'), (3.54, 30, 'm'), (4, 10, 'm')],
    [(0, 1130, 'b'), (0.5, 1130, 'h'), (0.6, 1090, 'h'), (0.8, 100, 'm'), (2.5, 95, 'm'), (2.98, 72, 'm'), (3.54, 28, 'm'), (4, 9, 'm')],
    [(0, 1130, 'b'), (0.42, 1130, 'k'), (0.55, 990, 'k'), (0.88, 100, 'm'), (2.6, 97, 'm'), (2.98, 84, 'm'), (3.54, 42, 'm'), (4, 16, 'm')],
    [(0, 1130, 'b'), (0.45, 1130, 'k'), (0.56, 960, 'k'), (0.72, 100, 'm'), (2.4, 96, 'm'), (2.98, 80, 'm'), (3.54, 38, 'm'), (4, 12, 'm')],
    [(0, 1130, 'b'), (0.5, 1130, 'h'), (0.82, 100, 'm'), (2.5, 95, 'm'), (2.98, 76, 'm'), (3.54, 32, 'm'), (4, 10, 'm')],
    [(0, 1130, 'b'), (0.58, 1130, 'k'), (0.66, 870, 'k'), (0.86, 100, 'm'), (2.6, 96, 'm'), (2.98, 82, 'm'), (3.54, 44, 'm'), (4, 15, 'm')],
    [(0, 1130, 'b'), (0.62, 1130, 'h'), (0.94, 100, 'm'), (2.5, 95, 'm'), (2.98, 70, 'm'), (3.54, 26, 'm'), (4, 9, 'm')],
    [(0, 1130, 'b'), (0.38, 1130, 'v'), (0.69, 100, 'm'), (2.4, 96, 'm'), (2.98, 78, 'm'), (3.54, 36, 'm'), (4, 11, 'm')],
    [(0, 1130, 'b'), (0.52, 1130, 'k'), (0.6, 620, 'h'), (0.75, 100, 'm'), (2.6, 95, 'm'), (2.98, 74, 'm'), (3.54, 30, 'm'), (4, 10, 'm')],
    [(0, 1130, 'b'), (0.59, 1130, 'b'), (0.68, 990, 'g'), (0.98, 975, 'g'), (1.32, 944, 'g'), (1.59, 883, 'g'), (1.76, 846, 'g'), (1.87, 784, 'g'), (1.98, 710, 'g'), (2.09, 648, 'g'), (2.2, 562, 'g'), (2.32, 438, 'g'), (2.43, 278, 'g'), (2.54, 130, 'g'), (2.59, 18, 'g'), (4, 3, 'g')],
    [(0, 1130, 'b'), (0.7, 1130, 'b'), (0.8, 990, 'g'), (0.98, 970, 'g'), (1.26, 883, 'g'), (1.48, 784, 'g'), (1.65, 710, 'g'), (1.76, 590, 'g'), (1.87, 470, 'g'), (1.98, 400, 'g'), (2.09, 320, 'g'), (2.2, 230, 'g'), (2.32, 130, 'g'), (2.43, 18, 'g'), (4, 3, 'g')],
    [(0, 1130, 'b'), (0.62, 1130, 'b'), (0.72, 1000, 'g'), (1.0, 980, 'g'), (1.3, 930, 'g'), (1.55, 860, 'g'), (1.75, 770, 'g'), (1.9, 660, 'g'), (2.05, 540, 'g'), (2.2, 400, 'g'), (2.35, 220, 'g'), (2.47, 60, 'g'), (2.52, 15, 'g'), (4, 3, 'g')],
    [(0, 1130, 'b'), (0.68, 1130, 'b'), (0.85, 990, 'g'), (1.1, 960, 'g'), (1.35, 900, 'g'), (1.6, 820, 'g'), (1.8, 700, 'g'), (1.95, 580, 'g'), (2.1, 450, 'g'), (2.25, 300, 'g'), (2.38, 120, 'g'), (2.46, 20, 'g'), (4, 3, 'g')],
    [(0, 1130, 'b'), (0.59, 1130, 'b'), (0.7, 1070, 't'), (0.96, 1070, 't'), (0.98, 990, 'g'), (1.3, 950, 'g'), (1.58, 880, 'g'), (1.8, 780, 'g'), (1.95, 680, 'g'), (2.1, 560, 'g'), (2.25, 420, 'g'), (2.4, 230, 'g'), (2.52, 50, 'g'), (2.58, 15, 'g'), (4, 3, 'g')],
    [(0, 1130, 'b'), (0.62, 1130, 'b'), (0.65, 1070, 't'), (0.96, 1070, 't'), (0.98, 734, 'm'), (1.29, 400, 'o'), (1.6, 340, 'o'), (1.85, 270, 'o'), (2.05, 200, 'o'), (2.25, 110, 'o'), (2.45, 30, 'o'), (2.55, 10, 'o'), (4, 3, 'o')],
    [(0, 1130, 'b'), (0.5, 1130, 'b'), (0.59, 810, 'p'), (0.7, 400, 'p'), (1.32, 377, 'o'), (1.59, 315, 'o'), (1.76, 266, 'o'), (1.87, 216, 'o'), (2.04, 154, 'o'), (2.2, 93, 'o'), (2.38, 43, 'o'), (2.48, 15, 'o'), (4, 3, 'o')],
    [(0, 1130, 'b'), (0.55, 1130, 'b'), (0.7, 400, 'd'), (1.32, 390, 'o'), (1.65, 352, 'o'), (1.87, 327, 'o'), (2.04, 278, 'o'), (2.2, 216, 'o'), (2.38, 130, 'o'), (2.48, 56, 'o'), (2.59, 15, 'o'), (4, 3, 'o')],
    [(0, 1130, 'b'), (0.6, 1130, 'b'), (0.7, 400, 'o'), (1.3, 385, 'o'), (1.6, 330, 'o'), (1.8, 280, 'o'), (1.95, 230, 'o'), (2.1, 160, 'o'), (2.25, 80, 'o'), (2.4, 25, 'o'), (4, 3, 'o')],
    [(0, 1130, 'b'), (0.55, 1130, 'b'), (0.62, 810, 'd'), (0.84, 810, 'd'), (0.9, 400, 'o'), (1.35, 395, 'o'), (1.62, 340, 'o'), (1.85, 290, 'o'), (2.0, 240, 'o'), (2.15, 170, 'o'), (2.32, 90, 'o'), (2.48, 25, 'o'), (4, 3, 'o')],
    [(0, 1130, 'b'), (0.65, 1130, 'b'), (0.75, 400, 'p'), (1.4, 390, 'p'), (1.7, 340, 'p'), (1.9, 300, 'p'), (2.08, 240, 'p'), (2.25, 160, 'p'), (2.4, 80, 'p'), (2.55, 20, 'p'), (4, 4, 'p')],
    [(0, 1130, 'b'), (0.6, 1130, 'b'), (0.7, 810, 'd'), (0.96, 760, 'd'), (1.29, 400, 'o'), (1.5, 380, 'o'), (1.75, 310, 'o'), (1.95, 250, 'o'), (2.1, 180, 'o'), (2.28, 90, 'o'), (2.42, 25, 'o'), (4, 3, 'o')],
    [(0, 1130, 'b'), (0.45, 1130, 'b'), (0.7, 400, 'o'), (1.3, 395, 'o'), (1.55, 350, 'o'), (1.8, 290, 'o'), (1.98, 220, 'o'), (2.15, 130, 'o'), (2.3, 50, 'o'), (2.4, 10, 'o'), (4, 3, 'o')],
    [(0, 1130, 'b'), (0.7, 1130, 'b'), (0.8, 400, 'p'), (1.5, 392, 'p'), (1.78, 345, 'p'), (1.95, 300, 'p'), (2.12, 230, 'p'), (2.3, 140, 'p'), (2.45, 60, 'p'), (2.58, 15, 'p'), (4, 3, 'p')],
]


# assemble panels: rows = network mutation rate, cols = allelic mutation rate
def grid_traj(gens, dists):
    return [[(x, y, 'b') for x, y in zip(gens, ys)] for ys in dists]


panels = [
    [[[(x, y, 'b') for x, y in tr] for tr in traj_n0_a1],
     grid_traj(gens_n0_a2, dist_n0_a2),
     grid_traj(gens_n0_a3, dist_n0_a3)],
    [traj_n1_a1, traj_n1_a2, traj_n1_a3],
    [traj_n2_a1, traj_n2_a2, traj_n2_a3],
]

code_color = {c: network_colors[i] for i, c in enumerate(network_codes)}

W, H = 1174, 1190
fig = plt.figure(figsize=(W / 100, H / 100), dpi=100)


def rect(l, t, r, b):
    return [l / W, 1 - b / H, (r - l) / W, (b - t) / H]


col_lr = [(109, 373), (384, 648), (659, 923)]
row_tb = [(77, 415), (424, 762), (772, 1110)]
strip_bg = "#D9D9D9"
txt_col = "#1A1A1A"


def draw_traj(ax, tr):
    # each segment takes the colour of the network dominant at its start
    n = len(tr)
    j = 0
    while j < n - 1:
        k = j
        while k + 1 < n - 1 and tr[k + 1][2] == tr[j][2]:
            k += 1
        pts = tr[j:k + 2]
        ax.plot([p[0] for p in pts], [p[1] for p in pts], color=code_color[tr[j][2]],
                lw=2.1, alpha=0.5, solid_capstyle='butt', solid_joinstyle='round')
        j = k + 1


# log ticks positions (annotation_logticks style)
tick_pos, tick_len = [], []
for dec in range(-1, 5):
    for k in range(1, 10):
        v = dec + np.log10(k)
        if -0.2 <= v <= 4.2:
            tick_pos.append(v)
            tick_len.append(18 if k == 1 else (12 if k == 5 else 6))

for r in range(3):
    for c in range(3):
        l, rr = col_lr[c]
        t, b = row_tb[r]
        ax = fig.add_axes(rect(l, t, rr, b))
        ax.set_xlim(-0.2, 4.2)
        ax.set_ylim(-56.5, 1186.5)
        ax.set_facecolor("white")
        for tr in panels[r][c]:
            draw_traj(ax, tr)
        ph = b - t
        ax.vlines(tick_pos, 0, [L / ph for L in tick_len], transform=ax.get_xaxis_transform(),
                  color="black", lw=1.4, clip_on=False)
        for s in ax.spines.values():
            s.set_visible(False)
        if c == 0:
            ax.spines['left'].set_visible(True)
            ax.spines['left'].set_linewidth(2.9)
            ax.spines['left'].set_color("black")
            ax.set_yticks(y_ticks)
            ax.tick_params(axis='y', length=4, width=1.1, color="#333333", labelsize=22,
                           labelcolor=txt_col, pad=3)
        else:
            ax.set_yticks([])
        if r == 2:
            ax.spines['bottom'].set_visible(True)
            ax.spines['bottom'].set_linewidth(2.9)
            ax.spines['bottom'].set_color("black")
            ax.set_xticks(x_ticks)
            ax.tick_params(axis='x', length=4, width=1.1, color="#333333", labelsize=22,
                           labelcolor=txt_col, pad=2)
        else:
            ax.set_xticks([])

# top strips
for c in range(3):
    l, rr = col_lr[c]
    fig.add_artist(Rectangle((l / W, 1 - 76 / H), (rr - l) / W, 71 / H,
                             transform=fig.transFigure, color=strip_bg, lw=0))
    fig.text((l + rr) / 2 / W, 1 - 42 / H, "allelic mutation rate =\n" + allelic_rates[c],
             ha="center", va="center", fontsize=19.5, color=txt_col, linespacing=1.05)

# right strips
for r in range(3):
    t, b = row_tb[r]
    fig.add_artist(Rectangle((925 / W, 1 - b / H), 69 / W, (b - t) / H,
                             transform=fig.transFigure, color=strip_bg, lw=0))
    fig.text(959 / W, 1 - (t + b) / 2 / H, "network mutation rate =\n" + network_rates[r],
             ha="center", va="center", fontsize=19.5, color=txt_col, linespacing=1.05,
             rotation=-90)

# axis titles
fig.text(25 / W, 1 - 593 / H, "Mean Distance from Optimum", rotation=90,
         ha="center", va="center", fontsize=24, color="black")
fig.text(515 / W, 1 - 1170 / H, r"Generations (10$^\mathregular{x}$)",
         ha="center", va="center", fontsize=24, color="black")

# legend
fig.text(1021 / W, 1 - 367 / H, "Dominant", ha="left", va="baseline", fontsize=23.5, color="black")
fig.text(1021 / W, 1 - 403 / H, "Network", ha="left", va="baseline", fontsize=23.5, color="black")
for i, name in enumerate(networks):
    top = 412 + 36.2 * i
    fig.add_artist(Rectangle((1022 / W, 1 - (top + 35) / H), 34 / W, 35 / H,
                             transform=fig.transFigure, color="#F2F2F2", lw=0))
    cy = top + 17
    fig.add_artist(Line2D([1025 / W, 1053 / W], [1 - cy / H, 1 - cy / H],
                          transform=fig.transFigure, color=network_colors[i], lw=2.1, alpha=0.75))
    fig.text(1062 / W, 1 - (cy + 1) / H, name, ha="left", va="center", fontsize=19.5, color="black")

fig.savefig("out.png", dpi=100)
